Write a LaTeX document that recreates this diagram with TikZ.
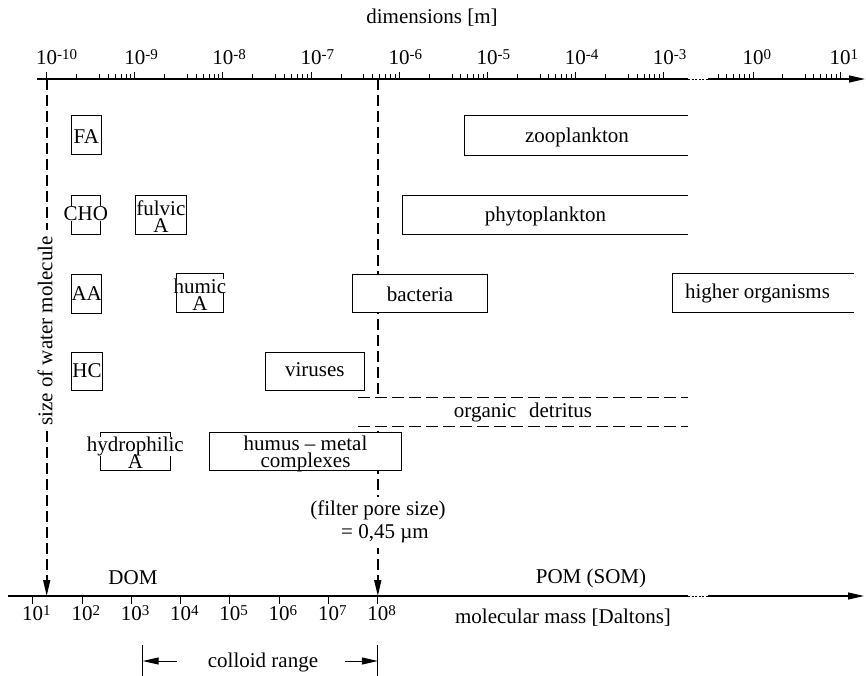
\documentclass[tikz,border=0pt]{standalone}
\usepackage{fontspec}
\setmainfont{Liberation Serif}
\usetikzlibrary{arrows.meta}
% raised exponent for the scale labels
\newcommand\expo[1]{\raisebox{5pt}{\fontsize{15}{15}\selectfont #1}}
% white backing behind a single text line
\newcommand\msk[1]{{\setlength{\fboxsep}{0pt}\colorbox{white}{#1}}}
\begin{document}
\begin{tikzpicture}[x=1pt,y=-1pt,
  every node/.style={font=\fontsize{21}{17.5}\selectfont, inner sep=0pt},
  axis/.style={line width=1.1pt},
  tick/.style={line width=0.9pt},
  tip/.style={-{Triangle[length=16pt,width=7pt]}},
  guide/.style={line width=1.6pt, dash pattern=on 11pt off 5pt},
  detline/.style={line width=1.3pt, dash pattern=on 12pt off 5pt},
  brk/.style={line width=0.9pt, dash pattern=on 2pt off 1.5pt},
  frame/.style={draw, line width=1pt, fill=white, inner sep=0pt},
  openframe/.style={line width=1pt},
  mask/.style={fill=white, inner xsep=0.5pt, inner ysep=0pt},
  lbl/.style={anchor=base},
  twoline/.style={align=center, font={\fontsize{21}{17.5}\selectfont\lineskiplimit=-20pt}},
]
\useasboundingbox (0,0) rectangle (866,676);

% ---------- axis coordinates ----------
\coordinate (ta-start) at (37,79);
\coordinate (ta-brk1) at (688,79);
\coordinate (ta-brk2) at (708,79);
\coordinate (ta-end) at (865,79);
\coordinate (ba-start) at (8,596);
\coordinate (ba-brk1) at (688,596);
\coordinate (ba-brk2) at (708,596);
\coordinate (ba-end) at (864,596);

% ---------- vertical guides (drawn first, boxes cover them) ----------
\coordinate (w-top) at (46.7,79);
\coordinate (w-bot) at (46.7,596);
\coordinate (f-top) at (377.8,79);
\coordinate (f-bot) at (377.8,596);
\draw[guide,tip] (w-top) -- (w-bot);
\draw[guide,tip] (f-top) -- (f-bot);

% ---------- top axis: dimensions ----------
\draw[axis] (ta-start) -- (ta-brk1);
\draw[brk] (ta-brk1) -- (ta-brk2);
\draw[axis,tip] (ta-brk2) -- (ta-end);
\foreach \k/\e in {0/-10,1/-9,2/-8,3/-7,4/-6,5/-5,6/-4,7/-3}{
  \draw[tick] ({46.7+88.1*\k},79) -- ++(0,-7);
  \node[lbl] (tl\k) at ({46.7+88.1*\k},65) {10\rlap{\expo{\e}}};
}
\foreach \k in {0,...,6}
  \foreach \f in {0.34,0.60,0.70,0.78,0.845,0.90,0.954}
    \draw[tick] ({46.7+88.1*(\k+\f)},79) -- ++(0,-5);
\foreach \f in {0.60,0.70,0.78,0.845,0.90,0.954}
  \draw[tick] ({666+87*\f},79) -- ++(0,-5);
\foreach \f in {0.34,0.60,0.70,0.78,0.845,0.90,0.954}
  \draw[tick] ({753+87*\f},79) -- ++(0,-5);
\draw[tick] (753,79) -- ++(0,-7);
\draw[tick] (840,79) -- ++(0,-7);
\node[lbl] (tl8) at (753,65) {10\rlap{\expo{0}}};
\node[lbl] (tl9) at (840,65) {10\rlap{\expo{1}}};
\node[lbl] (dim) at (432,24) {dimensions [m]};

% ---------- bottom axis: molecular mass ----------
\draw[axis] (ba-start) -- (ba-brk1);
\draw[brk] (ba-brk1) -- (ba-brk2);
\draw[axis,tip] (ba-brk2) -- (ba-end);
\foreach \k in {1,...,8}{
  \draw[tick] ({32.7+49.3*(\k-1)},596) -- ++(0,8);
  \node[lbl] (bl\k) at ({32.7+49.3*(\k-1)},620.5) {10\rlap{\expo{\k}}};
}
\node[lbl] (mm) at (563,623) {molecular mass [Daltons]};

% ---------- labels on the guides ----------
\node[fill=white, minimum width=18pt, minimum height=200pt] (wmask) at (46.7,330) {};
\node[rotate=90] (wlabel) at (45,331) {size of water molecule};
\node[fill=white, minimum width=18pt, minimum height=51pt] (pmask) at (377.8,522.5) {};
\node[lbl] (pore1) at (378,515) {(filter pore size)};
\node[lbl] (pore2) at (385,538) {= 0,45 µm};

% ---------- dissolved fraction ----------
\node[frame, minimum width=29.6pt, minimum height=39pt] (fa) at (86.3,135.5) {};
\node[lbl] (fa-t) at (86.3,143.3) {FA};

\node[frame, minimum width=28.3pt, minimum height=38.3pt] (cho) at (85.9,214.9) {};
\node[lbl,mask] (cho-t) at (85.9,220.3) {CHO};

\node[frame, minimum width=51.7pt, minimum height=38.3pt] (fulvic) at (160.9,214.9) {};
\node[twoline] (fulvic-t) at (160.9,216.6) {fulvic\\A};

\node[frame, minimum width=30pt, minimum height=39pt] (aa) at (86.7,293.5) {};
\node[lbl] (aa-t) at (86.7,300.3) {AA};

\node[frame, minimum width=46.3pt, minimum height=38.5pt] (humic) at (199.9,293.2) {};
\node[twoline] (humic-t) at (199.9,294.6) {\msk{humic}\\A};

\node[frame, minimum width=30.6pt, minimum height=38.4pt] (hc) at (87,371.5) {};
\node[lbl] (hc-t) at (87,377.3) {HC};

\node[frame, minimum width=98.3pt, minimum height=38.4pt] (virus) at (314.9,371.5) {};
\node[lbl] (virus-t) at (314.9,376.7) {viruses};

\node[frame, minimum width=70.7pt, minimum height=38pt] (hydro) at (135.4,451.7) {};
\node[twoline] (hydro-t) at (135.4,452.8) {\msk{hydrophilic}\\A};

\node[frame, minimum width=192.4pt, minimum height=38pt] (humus) at (305.5,451.7) {};
\node[twoline] (humus-t) at (305.5,453.9) {humus -- metal\\complexes};

% ---------- particulate fraction ----------
\node[frame, minimum width=134.6pt, minimum height=38.3pt] (bact) at (420,293.2) {};
\node[lbl] (bact-t) at (420,301.7) {bacteria};

\node[minimum width=223pt, minimum height=39pt] (zoo) at (576.5,135.5) {};
\draw[openframe] (zoo.north east) -- (zoo.north west) -- (zoo.south west) -- (zoo.south east);
\node[lbl] (zoo-t) at (577,142.5) {zooplankton};

\node[minimum width=285pt, minimum height=38.3pt] (phyto) at (545.5,215) {};
\draw[openframe] (phyto.north east) -- (phyto.north west) -- (phyto.south west) -- (phyto.south east);
\node[lbl] (phyto-t) at (545.5,222) {phytoplankton};

\node[minimum width=180.6pt, minimum height=38.3pt] (higher) at (763,293.2) {};
\draw[openframe] (higher.north east) -- (higher.north west) -- (higher.south west) -- (higher.south east);
\node[lbl] (higher-t) at (757.5,298.3) {higher organisms};

\node[fill=white, minimum width=330pt, minimum height=28.5pt] (detr) at (523,411.8) {};
\draw[detline] (detr.north west) -- (detr.north east);
\draw[detline] (detr.south west) -- (detr.south east);
\node[lbl] (detr-t) at (523,417) {organic\hspace{0.6em}detritus};

\node (dom) at (133,578) {DOM};
\node (pom) at (591,578) {POM (SOM)};

% ---------- colloid range ----------
\coordinate (cl-top) at (142.7,645);
\coordinate (cl-bot) at (142.7,676);
\coordinate (cr-top) at (377.8,645);
\coordinate (cr-bot) at (377.8,676);
\coordinate (cl-tail) at (176.7,661);
\coordinate (cr-tail) at (345,661);
\coordinate (cl-head) at (142.7,661);
\coordinate (cr-head) at (377.8,661);
\draw[line width=1pt] (cl-top) -- (cl-bot);
\draw[line width=1pt] (cr-top) -- (cr-bot);
\draw[line width=1pt,tip] (cl-tail) -- (cl-head);
\draw[line width=1pt,tip] (cr-tail) -- (cr-head);
\node[lbl] (colloid) at (263,667) {colloid range};
\end{tikzpicture}
\end{document}
